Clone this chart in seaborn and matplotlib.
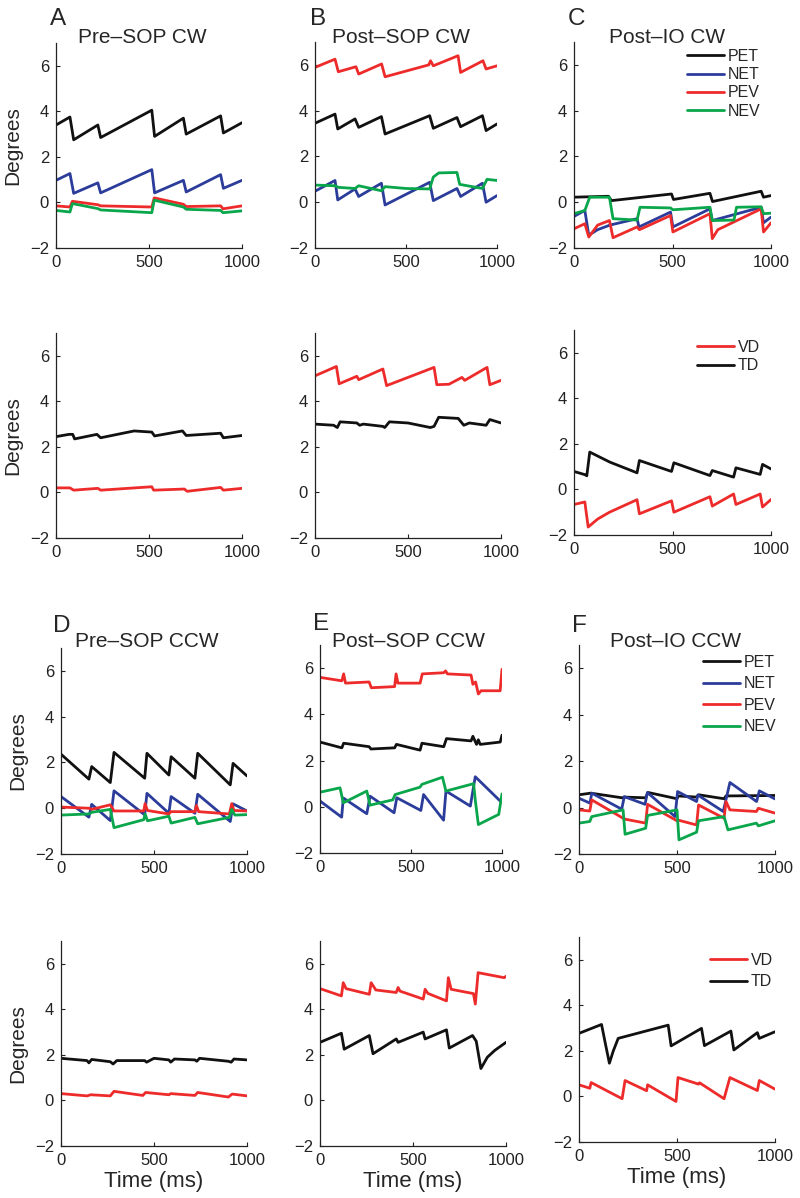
import pandas as pd
import seaborn as sns
import matplotlib.pyplot as plt

# colours of the four eye signals
BLACK = '#111111'
BLUE = '#2b3c9a'
RED = '#ee2b2b'
GREEN = '#0aa64b'

# ---- panel A : Pre-SOP CW ----
a_pet_t = [0, 75, 95, 225, 240, 515, 530, 685, 700, 885, 900, 1000]
a_pet_v = [3.4, 3.75, 2.75, 3.4, 2.85, 4.05, 2.9, 3.7, 3.0, 3.8, 3.05, 3.5]
a_net_t = [0, 75, 95, 225, 240, 515, 530, 685, 700, 885, 900, 1000]
a_net_v = [0.97, 1.27, 0.4, 0.86, 0.42, 1.44, 0.42, 0.97, 0.46, 1.22, 0.62, 0.97]
a_pev_t = [0, 75, 88, 225, 240, 515, 528, 685, 700, 885, 898, 1000]
a_pev_v = [-0.15, -0.2, 0.05, -0.1, -0.15, -0.2, 0.2, -0.08, -0.18, -0.15, -0.28, -0.15]
a_nev_t = [0, 75, 88, 225, 240, 515, 528, 685, 700, 885, 898, 1000]
a_nev_v = [-0.35, -0.42, -0.05, -0.27, -0.33, -0.45, 0.1, -0.2, -0.3, -0.35, -0.45, -0.37]

# ---- panel B : Post-SOP CW ----
b_pet_t = [0, 110, 125, 220, 240, 365, 385, 630, 650, 780, 800, 920, 940, 1000]
b_pet_v = [3.45, 3.85, 3.2, 3.64, 3.27, 3.74, 2.98, 3.78, 3.23, 3.7, 3.3, 3.78, 3.13, 3.42]
b_net_t = [0, 110, 125, 220, 240, 365, 385, 630, 650, 780, 800, 920, 940, 1000]
b_net_v = [0.48, 0.95, 0.1, 0.58, 0.25, 0.83, -0.12, 0.87, 0.07, 0.6, 0.25, 0.83, 0.0, 0.29]
b_pev_t = [0, 110, 128, 225, 240, 366, 385, 625, 635, 650, 786, 800, 923, 940, 1000]
b_pev_v = [5.89, 6.25, 5.7, 5.92, 5.6, 6.04, 5.48, 6.0, 6.18, 5.96, 6.4, 5.67, 6.18, 5.82, 5.96]
b_nev_t = [0, 110, 128, 220, 240, 365, 385, 500, 630, 650, 680, 780, 795, 920, 945, 1000]
b_nev_v = [0.75, 0.72, 0.65, 0.6, 0.72, 0.5, 0.68, 0.6, 0.58, 1.1, 1.28, 1.3, 0.78, 0.6, 1.0, 0.95]

# ---- panel C : Post-IO CW ----
c_pet_t = [0, 175, 190, 495, 505, 690, 703, 950, 962, 1000]
c_pet_v = [0.22, 0.26, 0.07, 0.36, 0.12, 0.39, 0.03, 0.48, 0.22, 0.29]
c_net_t = [0, 55, 75, 120, 182, 320, 330, 490, 502, 690, 702, 950, 962, 1000]
c_net_v = [-0.62, -0.36, -1.44, -1.2, -1.0, -0.72, -1.08, -0.43, -1.08, -0.29, -0.8, -0.22, -0.9, -0.65]
c_pev_t = [0, 55, 75, 120, 180, 198, 320, 332, 490, 502, 690, 702, 730, 950, 962, 1000]
c_pev_v = [-1.16, -0.94, -1.52, -1.0, -0.8, -1.55, -1.08, -1.2, -0.58, -1.3, -0.5, -1.59, -1.2, -0.29, -1.3, -0.9]
c_nev_t = [0, 55, 80, 180, 198, 320, 335, 490, 502, 690, 702, 812, 825, 950, 962, 1000]
c_nev_v = [-0.5, -0.36, 0.22, 0.22, -0.72, -0.78, -0.22, -0.25, -0.33, -0.22, -0.8, -0.78, -0.22, -0.2, -0.5, -0.48]

# ---- second row: vergence (VD) and torsion (TD) ----
a2_vd_t = [0, 75, 95, 225, 240, 515, 525, 690, 705, 885, 900, 1000]
a2_vd_v = [0.2, 0.2, 0.1, 0.18, 0.1, 0.25, 0.1, 0.15, 0.05, 0.22, 0.1, 0.18]
a2_td_t = [0, 70, 90, 100, 220, 240, 420, 515, 530, 680, 700, 885, 900, 1000]
a2_td_v = [2.45, 2.55, 2.55, 2.35, 2.55, 2.4, 2.7, 2.65, 2.48, 2.7, 2.5, 2.6, 2.4, 2.5]

b2_vd_t = [0, 115, 130, 225, 235, 365, 385, 640, 655, 720, 790, 805, 925, 940, 1000]
b2_vd_v = [5.12, 5.53, 4.77, 5.1, 4.95, 5.42, 4.69, 5.49, 4.73, 4.75, 5.05, 4.92, 5.49, 4.73, 4.92]
b2_td_t = [0, 100, 120, 135, 225, 240, 260, 365, 375, 400, 500, 620, 640, 665, 770, 800, 830, 920, 940, 1000]
b2_td_v = [3.0, 2.95, 2.85, 3.1, 3.05, 2.95, 3.0, 2.9, 2.85, 3.1, 3.05, 2.85, 2.9, 3.3, 3.25, 2.95, 3.05, 2.95, 3.2, 3.05]

c2_vd_t = [0, 55, 72, 120, 180, 320, 332, 495, 507, 690, 702, 810, 822, 945, 957, 1000]
c2_vd_v = [-0.66, -0.55, -1.65, -1.3, -1.0, -0.45, -1.07, -0.5, -1.0, -0.32, -0.73, -0.2, -0.66, -0.2, -0.77, -0.44]
c2_td_t = [0, 55, 65, 80, 182, 320, 332, 495, 507, 690, 702, 810, 822, 945, 957, 1000]
c2_td_v = [0.79, 0.65, 0.6, 1.64, 1.2, 0.73, 1.27, 0.79, 1.17, 0.61, 0.83, 0.54, 0.95, 0.66, 1.1, 0.9]

# ---- panel D : Pre-SOP CCW ----
d_pet_t = [0, 150, 165, 265, 285, 450, 462, 580, 592, 720, 735, 910, 925, 1000]
d_pet_v = [2.36, 1.27, 1.82, 1.12, 2.44, 1.31, 2.4, 1.45, 2.25, 1.31, 2.4, 1.02, 1.96, 1.41]
d_net_t = [0, 150, 165, 265, 285, 450, 462, 580, 592, 720, 735, 910, 925, 1000]
d_net_v = [0.51, -0.39, 0.17, -0.54, 0.76, -0.29, 0.65, -0.22, 0.51, -0.22, 0.61, -0.58, 0.19, -0.12]
d_pev_t = [0, 150, 165, 265, 285, 445, 452, 465, 580, 590, 720, 728, 740, 905, 918, 930, 1000]
d_pev_v = [0.05, 0.0, -0.05, 0.15, -0.12, -0.12, 0.2, -0.1, -0.25, -0.15, -0.15, 0.12, -0.15, -0.25, 0.2, -0.1, -0.12]
d_nev_t = [0, 150, 165, 265, 285, 445, 452, 465, 580, 592, 720, 735, 905, 918, 935, 1000]
d_nev_v = [-0.3, -0.25, -0.18, -0.05, -0.85, -0.5, -0.25, -0.55, -0.35, -0.65, -0.4, -0.68, -0.4, -0.05, -0.3, -0.28]

# ---- panel E : Post-SOP CCW ----
e_pet_t = [0, 120, 130, 270, 280, 410, 420, 550, 560, 680, 695, 830, 840, 860, 870, 880, 990, 1000]
e_pet_v = [2.8, 2.55, 2.75, 2.6, 2.5, 2.55, 2.7, 2.45, 2.75, 2.6, 2.95, 2.85, 3.05, 2.7, 2.9, 2.7, 2.8, 3.1]
e_net_t = [0, 119, 128, 257, 275, 407, 422, 554, 569, 679, 692, 826, 853, 990, 1000]
e_net_v = [0.25, -0.45, 0.38, -0.3, 0.46, -0.26, 0.39, -0.16, 0.53, -0.58, 0.68, 0.03, 1.3, 0.25, 0.36]
e_pev_t = [0, 120, 130, 140, 270, 282, 410, 418, 428, 550, 562, 680, 690, 700, 830, 840, 855, 870, 885, 990, 1000]
e_pev_v = [5.6, 5.45, 5.75, 5.35, 5.4, 5.15, 5.2, 5.75, 5.35, 5.35, 5.75, 5.8, 5.88, 5.75, 5.7, 5.3, 5.4, 4.88, 5.02, 5.02, 5.95]
e_nev_t = [0, 110, 128, 257, 275, 400, 413, 550, 560, 673, 692, 844, 853, 870, 982, 1000]
e_nev_v = [0.63, 0.82, 0.17, 0.68, 0.07, 0.3, 0.53, 0.85, 0.97, 1.28, 0.68, 1.0, 0.3, -0.77, -0.33, 0.56]

# ---- panel F : Post-IO CCW ----
f_pet_t = [0, 60, 220, 232, 340, 352, 500, 507, 600, 610, 740, 750, 1000]
f_pet_v = [0.55, 0.62, 0.42, 0.45, 0.42, 0.65, 0.38, 0.5, 0.45, 0.55, 0.38, 0.5, 0.52]
f_net_t = [0, 56, 65, 218, 231, 337, 349, 490, 503, 600, 606, 736, 770, 906, 920, 1000]
f_net_v = [0.4, 0.19, 0.62, -0.07, 0.47, 0.14, 0.65, -0.39, 0.69, 0.26, 0.54, -0.17, 1.08, 0.26, 0.72, 0.37]
f_pev_t = [0, 55, 65, 225, 235, 340, 350, 500, 510, 600, 610, 740, 750, 770, 905, 915, 1000]
f_pev_v = [-0.1, -0.15, 0.33, -0.46, -0.5, -0.67, 0.14, -0.57, -0.55, -0.75, 0.11, -0.46, 0.26, -0.1, -0.17, -0.03, -0.24]
f_nev_t = [0, 55, 65, 225, 235, 340, 350, 500, 510, 600, 610, 740, 760, 905, 915, 1000]
f_nev_v = [-0.67, -0.6, -0.39, -0.1, -1.15, -0.89, -0.34, -0.1, -1.39, -1.06, -0.57, -0.39, -0.96, -0.67, -0.79, -0.57]

# ---- fourth row ----
d2_vd_t = [0, 140, 160, 265, 285, 440, 455, 580, 590, 720, 735, 900, 920, 1000]
d2_vd_v = [0.3, 0.2, 0.25, 0.2, 0.4, 0.22, 0.35, 0.25, 0.3, 0.22, 0.35, 0.15, 0.28, 0.2]
d2_td_t = [0, 140, 150, 165, 265, 280, 300, 450, 460, 500, 580, 590, 610, 720, 730, 745, 900, 915, 930, 1000]
d2_td_v = [1.85, 1.75, 1.65, 1.8, 1.7, 1.6, 1.75, 1.75, 1.68, 1.85, 1.78, 1.68, 1.82, 1.78, 1.72, 1.85, 1.72, 1.68, 1.82, 1.78]

e2_vd_t = [0, 115, 125, 140, 265, 275, 300, 410, 420, 430, 555, 565, 580, 680, 690, 705, 825, 835, 850, 990, 1000]
e2_vd_v = [4.91, 4.59, 5.17, 4.91, 4.66, 5.17, 4.85, 4.74, 4.96, 4.8, 4.45, 4.88, 4.7, 4.37, 5.39, 4.88, 4.69, 4.23, 5.61, 5.39, 5.45]
e2_td_t = [0, 115, 130, 265, 285, 410, 420, 555, 565, 680, 695, 820, 840, 865, 900, 940, 1000]
e2_td_v = [2.55, 2.95, 2.25, 2.85, 2.05, 2.7, 2.55, 3.0, 2.7, 3.1, 2.3, 2.85, 2.6, 1.4, 1.9, 2.2, 2.55]

f2_vd_t = [0, 55, 62, 220, 235, 345, 350, 495, 505, 610, 615, 740, 770, 910, 920, 1000]
f2_vd_v = [0.51, 0.36, 0.61, -0.1, 0.7, 0.25, 0.51, -0.22, 0.83, 0.54, 0.6, -0.1, 0.83, 0.26, 0.7, 0.32]
f2_td_t = [0, 115, 135, 155, 175, 200, 455, 470, 625, 640, 775, 790, 910, 920, 1000]
f2_td_v = [2.77, 3.16, 2.3, 1.46, 2.0, 2.55, 3.13, 2.22, 2.99, 2.23, 2.87, 2.04, 2.8, 2.55, 2.84]

x_ticks = [0, 500, 1000]
y_ticks = [-2, 0, 2, 4, 6]

sns.set_style('ticks')
plt.rcParams['font.family'] = ['Liberation Sans', 'DejaVu Sans']
plt.rcParams['axes.unicode_minus'] = True

W, H = 800, 1198
fig = plt.figure(figsize=(W / 100, H / 100), dpi=100)


def make_axes(l, t, r, b):
    return fig.add_axes([l / W, 1 - b / H, (r - l) / W, (b - t) / H])


def draw(ax, traces):
    for t, v, color, name in traces:
        df = pd.DataFrame({'t': t, 'v': v})
        sns.lineplot(data=df, x='t', y='v', ax=ax, color=color, linewidth=2.0,
                     estimator=None, sort=False, label=name, legend=False)
    ax.set_xlim(0, 1000)
    ax.set_ylim(-2, 7)
    ax.set_xticks(x_ticks)
    ax.set_yticks(y_ticks)
    ax.tick_params(direction='in', length=3, width=0.8, labelsize=12,
                   pad=5, colors='#222222')
    for s in ['top', 'right']:
        ax.spines[s].set_visible(False)
    for s in ['left', 'bottom']:
        ax.spines[s].set_linewidth(0.9)
        ax.spines[s].set_color('#222222')
    ax.set_xlabel('')
    ax.set_ylabel('')


def add_legend(ax, px, py, spacing):
    ax.legend(loc='upper left', bbox_to_anchor=(px / W, 1 - py / H),
              bbox_transform=fig.transFigure, frameon=False, fontsize=11.5,
              handlelength=2.3, handletextpad=0.25, labelspacing=spacing,
              borderpad=0, borderaxespad=0)


def label_left(ax):
    ax.set_ylabel('Degrees', fontsize=15)
    ax.yaxis.set_label_coords(-0.18, 0.5)


def label_bottom(ax):
    ax.set_xlabel('Time (ms)', fontsize=16, labelpad=2)


def head(letter, lx, ly, title, tx, ty):
    fig.text(lx / W, 1 - ly / H, letter, fontsize=17.5, ha='left', va='baseline')
    fig.text(tx / W, 1 - ty / H, title, fontsize=15, ha='center', va='baseline')


# row 1
ax = make_axes(56, 43, 242, 248)
draw(ax, [(a_pet_t, a_pet_v, BLACK, 'PET'), (a_net_t, a_net_v, BLUE, 'NET'),
          (a_pev_t, a_pev_v, RED, 'PEV'), (a_nev_t, a_nev_v, GREEN, 'NEV')])
label_left(ax)
head('A', 50, 25, 'Pre\u2013SOP CW', 142, 43)

ax = make_axes(315, 42, 497, 248)
draw(ax, [(b_pet_t, b_pet_v, BLACK, 'PET'), (b_net_t, b_net_v, BLUE, 'NET'),
          (b_pev_t, b_pev_v, RED, 'PEV'), (b_nev_t, b_nev_v, GREEN, 'NEV')])
head('B', 310, 25, 'Post\u2013SOP CW', 401, 43)

ax = make_axes(574, 42, 771, 248)
draw(ax, [(c_pet_t, c_pet_v, BLACK, 'PET'), (c_net_t, c_net_v, BLUE, 'NET'),
          (c_pev_t, c_pev_v, RED, 'PEV'), (c_nev_t, c_nev_v, GREEN, 'NEV')])
add_legend(ax, 687, 49, 0.2)
head('C', 568, 25, 'Post\u2013IO CW', 667, 43)

# row 2
ax = make_axes(56, 333, 242, 538)
draw(ax, [(a2_vd_t, a2_vd_v, RED, 'VD'), (a2_td_t, a2_td_v, BLACK, 'TD')])
label_left(ax)

ax = make_axes(315, 333, 501, 538)
draw(ax, [(b2_vd_t, b2_vd_v, RED, 'VD'), (b2_td_t, b2_td_v, BLACK, 'TD')])

ax = make_axes(574, 330, 771, 535)
draw(ax, [(c2_vd_t, c2_vd_v, RED, 'VD'), (c2_td_t, c2_td_v, BLACK, 'TD')])
add_legend(ax, 697, 340, 0.2)

# row 3
ax = make_axes(61, 648, 247, 854)
draw(ax, [(d_pet_t, d_pet_v, BLACK, 'PET'), (d_net_t, d_net_v, BLUE, 'NET'),
          (d_pev_t, d_pev_v, RED, 'PEV'), (d_nev_t, d_nev_v, GREEN, 'NEV')])
label_left(ax)
head('D', 53, 632, 'Pre\u2013SOP CCW', 147, 647)

ax = make_axes(320, 645, 502, 853)
draw(ax, [(e_pet_t, e_pet_v, BLACK, 'PET'), (e_net_t, e_net_v, BLUE, 'NET'),
          (e_pev_t, e_pev_v, RED, 'PEV'), (e_nev_t, e_nev_v, GREEN, 'NEV')])
head('E', 313, 630, 'Post\u2013SOP CCW', 408, 647)

ax = make_axes(579, 645, 775, 854)
draw(ax, [(f_pet_t, f_pet_v, BLACK, 'PET'), (f_net_t, f_net_v, BLUE, 'NET'),
          (f_pev_t, f_pev_v, RED, 'PEV'), (f_nev_t, f_nev_v, GREEN, 'NEV')])
add_legend(ax, 703, 655, 0.4)
head('F', 572, 632, 'Post\u2013IO CCW', 676, 647)

# row 4
ax = make_axes(61, 941, 247, 1146)
draw(ax, [(d2_vd_t, d2_vd_v, RED, 'VD'), (d2_td_t, d2_td_v, BLACK, 'TD')])
label_left(ax)
label_bottom(ax)

ax = make_axes(320, 941, 506, 1146)
draw(ax, [(e2_vd_t, e2_vd_v, RED, 'VD'), (e2_td_t, e2_td_v, BLACK, 'TD')])
label_bottom(ax)

ax = make_axes(579, 937, 775, 1142)
draw(ax, [(f2_vd_t, f2_vd_v, RED, 'VD'), (f2_td_t, f2_td_v, BLACK, 'TD')])
add_legend(ax, 710, 953, 0.4)
label_bottom(ax)

fig.savefig('out.png', dpi=100, facecolor='white')
